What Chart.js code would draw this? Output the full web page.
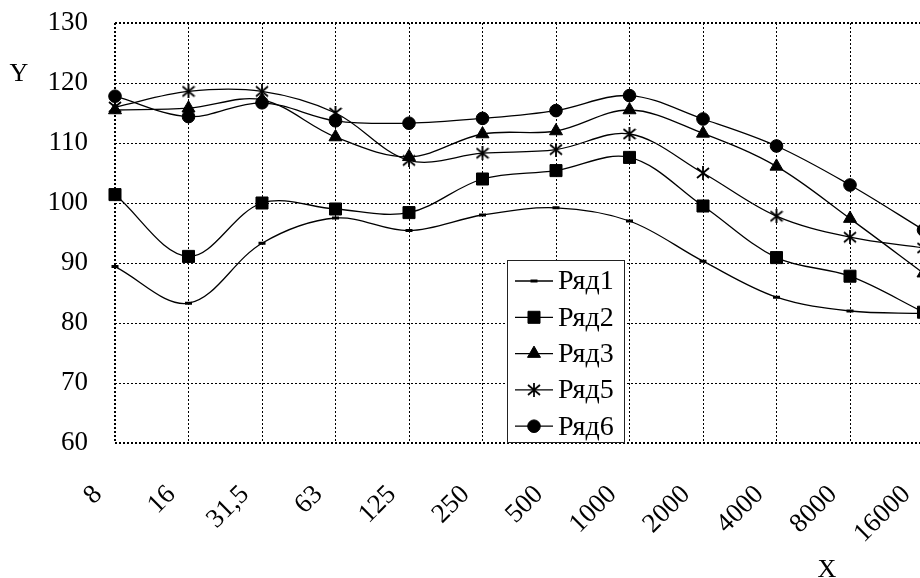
<!DOCTYPE html>
<html>
<head>
<meta charset="utf-8">
<script src="https://cdn.jsdelivr.net/npm/chart.js@4"></script>
<style>
html, body { margin: 0; padding: 0; background: #fff; overflow: hidden; }
#wrap { width: 933px; height: 578px; position: relative; }
</style>
</head>
<body>
<div id="wrap"><canvas id="myChart"></canvas></div>
<script>
// categories (x) and the five series
var xLabels = ['8', '16', '31,5', '63', '125', '250', '500', '1000', '2000', '4000', '8000', '16000'];
var yTicks = [60, 70, 80, 90, 100, 110, 120, 130];

const ryad1 = [89.4, 83.3, 93.3, 97.5, 95.4, 98.0, 99.2, 97.0, 90.3, 84.3, 82.0, 81.6];
const ryad2 = [101.4, 91.1, 100.0, 99.0, 98.4, 104.0, 105.4, 107.6, 99.5, 90.9, 87.8, 81.8];
const ryad3 = [115.5, 115.8, 117.2, 111.0, 107.7, 111.5, 112.0, 115.5, 111.6, 106.1, 97.4, 88.3];
const ryad5 = [116.0, 118.6, 118.6, 115.0, 107.1, 108.3, 108.9, 111.5, 105.0, 97.8, 94.3, 92.5];
const ryad6 = [117.8, 114.4, 116.7, 113.7, 113.3, 114.1, 115.4, 117.9, 114.0, 109.5, 103.0, 95.5];

const FONT = 'Liberation Serif';

// asterisk marker (vertical line + X), like the spreadsheet one
function makeStar() {
  var c = document.createElement('canvas');
  c.width = 14; c.height = 14;
  var g = c.getContext('2d');
  g.strokeStyle = '#000';
  g.lineWidth = 1.8;
  g.beginPath();
  g.moveTo(7, 0); g.lineTo(7, 14);
  g.moveTo(1, 2); g.lineTo(13, 12);
  g.moveTo(1, 12); g.lineTo(13, 2);
  g.stroke();
  return c;
}
const starImg = makeStar();

function series(label, data, style, radius, bw) {
  return {
    label: label,
    data: data,
    borderColor: '#000',
    backgroundColor: '#000',
    borderWidth: 1.3,
    pointStyle: style,
    pointRadius: radius,
    pointBorderWidth: bw,
    pointBackgroundColor: '#000',
    pointBorderColor: '#000',
    tension: 0.35,
    fill: false
  };
}

// legend drawn inside the plot, as in the picture
const boxLegend = {
  id: 'boxLegend',
  afterDraw(chart) {
    const ctx = chart.ctx;
    const a = chart.chartArea;
    const left = a.left + 392, right = a.left + 510, top = a.bottom - 183, bottom = a.bottom;
    ctx.save();
    ctx.fillStyle = '#fff';
    ctx.fillRect(left, top, right - left, bottom - top);
    ctx.strokeStyle = '#222';
    ctx.lineWidth = 1;
    ctx.strokeRect(left + 0.5, top + 0.5, right - left - 1, bottom - top - 1);
    chart.data.datasets.forEach(function (ds, i) {
      const y = top + 21 + i * 36.3;
      ctx.strokeStyle = '#000';
      ctx.lineWidth = 1.3;
      ctx.beginPath();
      ctx.moveTo(left + 8, y);
      ctx.lineTo(left + 46, y);
      ctx.stroke();
      ctx.fillStyle = '#000';
      ctx.lineWidth = ds.pointBorderWidth;
      Chart.helpers.drawPoint(ctx, {
        pointStyle: ds.pointStyle,
        radius: ds.pointRadius,
        borderWidth: ds.pointBorderWidth,
        rotation: 0
      }, left + 27, y);
      ctx.fillStyle = '#000';
      ctx.font = '28px "' + FONT + '"';
      ctx.textAlign = 'left';
      ctx.textBaseline = 'middle';
      ctx.fillText(ds.label, left + 51, y + 1);
    });
    // axis titles
    ctx.font = '26px "' + FONT + '"';
    ctx.textAlign = 'center';
    ctx.textBaseline = 'middle';
    ctx.fillText('Y', 19, 74);
    ctx.fillText('X', 827, 570);
    ctx.restore();
  }
};

const chart = new Chart('myChart', {
  type: 'line',
  data: {
    labels: xLabels,
    datasets: [
      series('Ряд1', ryad1, 'line', 3.5, 3),
      series('Ряд2', ryad2, 'rect', 8.5, 1),
      series('Ряд3', ryad3, 'triangle', 7.5, 1),
      series('Ряд5', ryad5, starImg, 7, 1),
      series('Ряд6', ryad6, 'circle', 6.3, 1)
    ]
  },
  options: {
    responsive: true,
    maintainAspectRatio: false,
    animation: false,
    devicePixelRatio: 1,
    layout: { padding: { top: 23, left: 0, right: 0, bottom: 0 } },
    plugins: {
      legend: { display: false },
      title: { display: false },
      tooltip: { enabled: false }
    },
    scales: {
      x: {
        offset: false,
        grid: {
          color: '#000',
          lineWidth: function (c) { return c.index === 0 ? 2 : 1; },
          drawTicks: false
        },
        border: { display: false, dash: [2, 2] },
        ticks: {
          color: '#000',
          font: { family: FONT, size: 27 },
          maxRotation: 45,
          minRotation: 45,
          autoSkip: false,
          padding: 36,
          labelOffset: -17
        },
        afterFit: function (s) {
          s.height = 135;
          s.paddingLeft = 0;
          s.paddingRight = 0;
        }
      },
      y: {
        min: 60,
        max: 130,
        afterBuildTicks: function (s) {
          s.ticks = yTicks.map(function (v) { return { value: v }; });
        },
        grid: {
          color: '#000',
          lineWidth: function (c) {
            return (c.tick && (c.tick.value === 60 || c.tick.value === 130)) ? 2 : 1;
          },
          drawTicks: false
        },
        border: { display: false, dash: [2, 2] },
        ticks: {
          color: '#000',
          font: { family: FONT, size: 27 },
          padding: 27
        },
        afterFit: function (s) {
          s.width = 115;
          s.paddingTop = 0;
          s.paddingBottom = 0;
        }
      }
    }
  },
  plugins: [boxLegend]
});
</script>
</body>
</html>
